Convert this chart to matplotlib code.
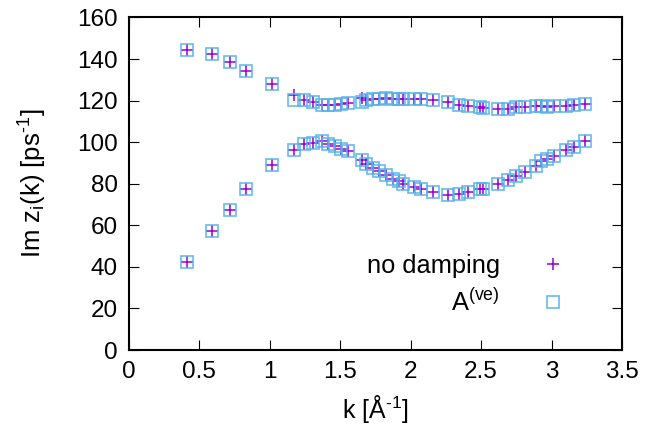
import matplotlib
matplotlib.use("Agg")
import matplotlib.pyplot as plt

plt.rcParams['font.family'] = ['Liberation Sans', 'DejaVu Sans']
plt.rcParams['mathtext.fontset'] = 'custom'
plt.rcParams['mathtext.rm'] = 'Liberation Sans'
plt.rcParams['mathtext.it'] = 'Liberation Sans'

k = [0.416, 0.589, 0.719, 0.830, 1.016, 1.171, 1.241, 1.307, 1.368, 1.413,
     1.460, 1.508, 1.555, 1.652, 1.685, 1.732, 1.779, 1.822, 1.873, 1.921,
     1.949, 2.027, 2.074, 2.157, 2.263, 2.346, 2.406, 2.491, 2.511, 2.620,
     2.688, 2.751, 2.813, 2.887, 2.924, 2.971, 3.018, 3.101, 3.160, 3.238]

upper_nodamp = [144.2, 142.3, 138.6, 134.3, 127.9, 122.6, 120.2, 119.4, 118.1, 117.8,
                118.1, 118.4, 118.9, 121.3, 120.5, 120.6, 120.7, 121.3, 121.0, 121.0,
                121.0, 120.7, 121.0, 120.2, 119.1, 117.8, 117.3, 117.0, 116.5, 115.9,
                116.2, 117.0, 116.7, 117.3, 117.2, 117.0, 117.3, 117.6, 117.8, 118.3]
lower_nodamp = [42.5, 57.4, 67.6, 77.4, 88.9, 96.2, 98.9, 99.8, 100.5, 98.9,
                98.2, 96.9, 95.7, 91.3, 89.3, 87.6, 86.1, 84.4, 82.5, 81.3,
                80.1, 78.5, 77.4, 76.1, 74.5, 75.3, 76.1, 77.4, 77.4, 79.8,
                81.7, 83.8, 85.7, 88.6, 90.9, 92.1, 93.4, 96.2, 97.8, 100.6]
upper_ve = [144.2, 142.3, 138.6, 134.3, 127.9, 120.5, 120.2, 119.4, 118.1, 117.8,
            118.1, 118.4, 118.9, 119.4, 120.5, 120.6, 120.7, 121.3, 121.0, 121.0,
            121.0, 120.7, 121.0, 120.2, 119.1, 117.8, 117.3, 117.0, 116.5, 115.9,
            116.2, 117.0, 116.7, 117.3, 117.2, 117.0, 117.3, 117.6, 117.8, 118.3]
lower_ve = [42.5, 57.4, 67.6, 77.4, 88.9, 96.2, 98.9, 99.8, 100.5, 98.9,
            98.2, 96.9, 95.7, 91.3, 89.3, 87.6, 86.1, 84.4, 82.5, 81.3,
            80.1, 78.5, 77.4, 76.1, 74.5, 75.3, 76.1, 77.4, 77.4, 79.8,
            81.7, 83.8, 85.7, 88.6, 90.9, 92.1, 93.4, 96.2, 97.8, 100.6]

xticks = [0, 0.5, 1, 1.5, 2, 2.5, 3, 3.5]
xticklabels = ['0', '0.5', '1', '1.5', '2', '2.5', '3', '3.5']
yticks = [0, 20, 40, 60, 80, 100, 120, 140, 160]

PURPLE = '#9400d3'
BLUE = '#56b4e9'
HY = '\u2010'

fig = plt.figure(figsize=(6.47, 4.37), dpi=100)
ax = fig.add_axes([0.199, 0.199, 0.7624, 0.761])

pkw = dict(linestyle='none', marker='+', markersize=9, markeredgewidth=1.1, color=PURPLE)
skw = dict(linestyle='none', marker='s', markersize=8.5, markeredgewidth=1.2,
           markerfacecolor='none', markeredgecolor=BLUE, alpha=0.9)

h1, = ax.plot(k, upper_nodamp, **pkw)
ax.plot(k, lower_nodamp, **pkw)
h2, = ax.plot(k, upper_ve, **skw)
ax.plot(k, lower_ve, **skw)

ax.set_xlim(0, 3.5)
ax.set_ylim(0, 160)
ax.set_xticks(xticks)
ax.set_xticklabels(xticklabels)
ax.set_yticks(yticks)
ax.tick_params(direction='in', length=7, width=0.8, top=True, right=True,
               labelsize=17.5, pad=8)
for s in ax.spines.values():
    s.set_linewidth(1.5)

ax.set_xlabel('k [Å$^{\\mathregular{' + HY + '1}}$]', fontsize=18, labelpad=7)
ax.set_ylabel('Im z$_{\\mathregular{i}}$(k) [ps$^{\\mathregular{' + HY + '1}}$]',
              fontsize=18.5, labelpad=20)

leg1 = ax.legend([h1], ['no damping'], loc='center right', bbox_to_anchor=(0.886, 0.252),
                 frameon=False, markerfirst=False, fontsize=18.3, handlelength=1.0,
                 handletextpad=1.6, borderpad=0, borderaxespad=0)
ax.add_artist(leg1)
ax.legend([h2], ['A$^{\\mathregular{(ve)}}$'], loc='center right', bbox_to_anchor=(0.886, 0.144),
          frameon=False, markerfirst=False, fontsize=18.3, handlelength=1.0,
          handletextpad=1.6, borderpad=0, borderaxespad=0)

fig.savefig('out.png', dpi=100)
